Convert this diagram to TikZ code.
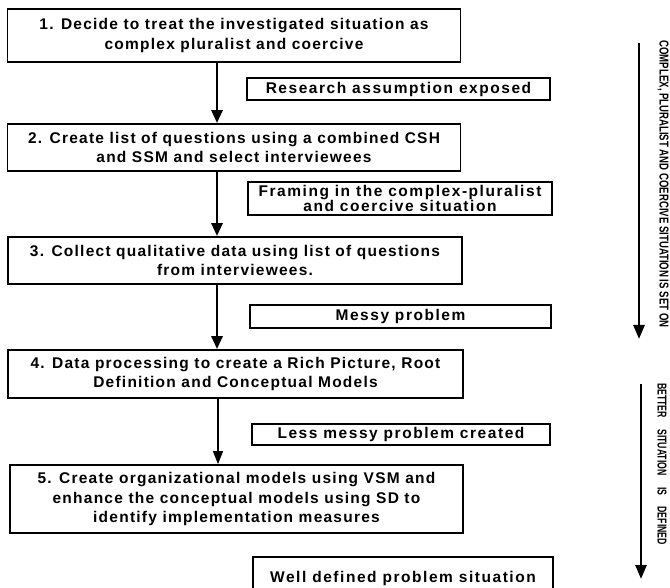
\documentclass[tikz,border=0pt]{standalone}
\usepackage{fontspec}
\usetikzlibrary{arrows.meta}
\setmainfont{Liberation Sans}
\newfontfamily\stepfont{Liberation Sans}[LetterSpace=8]
\newfontfamily\notefont{Liberation Sans}[LetterSpace=10]
\newfontfamily\sidefont{Liberation Sans}

\begin{document}
\begin{tikzpicture}[x=1pt,y=-1pt,
  stepbox/.style={draw, line width=1.8pt, align=center, inner sep=1pt,
    font=\stepfont\bfseries\fontsize{15.5}{19.5}\selectfont},
  notebox/.style={draw, line width=1.6pt, align=center, inner sep=1pt,
    font=\notefont\bfseries\fontsize{15.5}{15}\selectfont},
  flow/.style={line width=2.8pt, -{Triangle[length=13pt,width=11pt]}},
  thinflow/.style={line width=1.5pt, -{Triangle[length=13pt,width=10pt]}},
  sidearrow/.style={line width=2.6pt, -{Triangle[length=14pt,width=11pt]}},
  sidelabel/.style={rotate=-90, inner sep=0pt, font=\sidefont\bfseries}]
\useasboundingbox (0,0) rectangle (670,588);
\clip (0,0) rectangle (670,588);

% main sequence of steps
\node[stepbox, minimum width=453pt, minimum height=53pt] (s1) at (234,35.5)
  {1. Decide to treat the investigated situation as\\complex pluralist and coercive};
\node[stepbox, minimum width=453pt, minimum height=47pt] (s2) at (234,147.5)
  {2. Create list of questions using a combined CSH\\and SSM and select interviewees};
\node[stepbox, minimum width=454pt, minimum height=47pt] (s3) at (235,260.5)
  {3. Collect qualitative data using list of questions\\from interviewees.};
\node[stepbox, minimum width=455pt, minimum height=48pt] (s4) at (235.5,374)
  {4. Data processing to create a Rich Picture, Root\\Definition and Conceptual Models};
\node[stepbox, minimum width=453pt, minimum height=68pt] (s5) at (236.5,499)
  {5. Create organizational models using VSM and\\enhance the conceptual models using SD to\\identify implementation measures};

% outcomes of each step
\node[notebox, minimum width=303pt, minimum height=22pt] (o1) at (398.5,89)
  {Research assumption exposed};
\node[notebox, minimum width=304pt, minimum height=33pt] (o2) at (400,198.5)
  {Framing in the complex-pluralist\\and coercive situation};
\node[notebox, minimum width=301pt, minimum height=23pt] (o3) at (400.5,316.5)
  {Messy problem};
\node[notebox, minimum width=298pt, minimum height=21pt] (o4) at (401,434.5)
  {Less messy problem created};
\node[notebox, minimum width=300pt, minimum height=42pt] (o5) at (403,578)
  {Well defined problem situation};

% connectors between the steps
\draw[flow] (s1.south -| 217,0) -- (s2.north -| 217,0);
\draw[flow] (s2.south -| 217,0) -- (s3.north -| 217,0);
\draw[flow] (s3.south -| 217,0) -- (s4.north -| 217,0);
\draw[thinflow] (s4.south -| 218,0) -- (s5.north -| 218,0);

% phase arrows along the right edge
\coordinate (pa1) at (639,43);
\coordinate (pa2) at (639,339);
\coordinate (pb1) at (641,384);
\coordinate (pb2) at (641,579);
\draw[sidearrow] (pa1) -- (pa2);
\draw[sidearrow] (pb1) -- (pb2);
\node[sidelabel] (la) at (663,184)
  {\resizebox{287pt}{9pt}{COMPLEX, PLURALIST AND COERCIVE SITUATION IS SET ON}};
\node[sidelabel] (lb) at (662,464)
  {\resizebox{162pt}{9pt}{BETTER\hspace{1.3em}SITUATION\hspace{1.3em}IS\hspace{1.3em}DEFINED}};
\end{tikzpicture}
\end{document}
